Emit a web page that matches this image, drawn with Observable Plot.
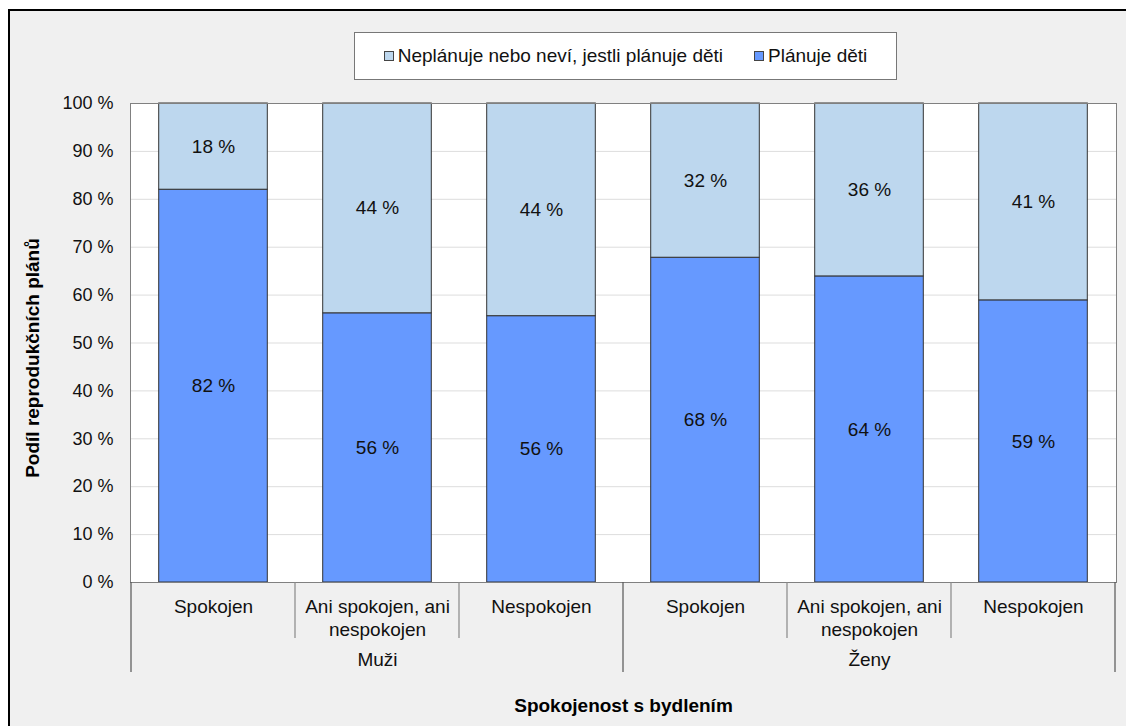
<!DOCTYPE html>
<html>
<head>
<meta charset="utf-8">
<script src="https://cdn.jsdelivr.net/npm/d3@7"></script>
<script src="https://cdn.jsdelivr.net/npm/@observablehq/plot@0.6"></script>
<style>
  html, body { margin: 0; padding: 0; background: white; overflow: hidden; }
  #wrap { position: relative; width: 1126px; height: 726px; overflow: hidden; font-family: "Liberation Sans", Arial, sans-serif; }
  #frame { position: absolute; left: 8px; top: 9px; width: 1140px; height: 740px; border: 2px solid #000; background: #f0f0f0; box-sizing: border-box; }
  #chart { position: absolute; left: 0; top: 0; }
  #legend { position: absolute; left: 354px; top: 32px; width: 543px; height: 48px; box-sizing: border-box; border: 1px solid #777; background: #fff; display: flex; align-items: center; justify-content: center; gap: 31px; font-size: 19px; color: #111; }
  .item { display: flex; align-items: center; gap: 4px; }
  .sw { width: 8px; height: 8px; border: 1px solid #444; }
</style>
</head>
<body>
<div id="wrap">
  <div id="frame"></div>
  <div id="chart"></div>
  <div id="legend"></div>
</div>
<script>
const groups = ["Muži", "Ženy"];
const categories = ["Spokojen", "Ani spokojen, ani\nnespokojen", "Nespokojen"];
const series = ["Plánuje děti", "Neplánuje nebo neví, jestli plánuje děti"];
const legendOrder = ["Neplánuje nebo neví, jestli plánuje děti", "Plánuje děti"];
const colors = ["#6699ff", "#bdd7ee"];
const planuje = [82.0, 56.2, 55.6, 67.8, 63.9, 58.9];
const neplanuje = [18.0, 43.8, 44.4, 32.2, 36.1, 41.1];
const yTicks = [0, 10, 20, 30, 40, 50, 60, 70, 80, 90, 100];
const xTitle = "Spokojenost s bydlením";
const yTitle = "Podíl reprodukčních plánů";

const keys = [];
const catOf = {};
groups.forEach(g => categories.forEach(c => { const k = g + "|" + c; keys.push(k); catOf[k] = c; }));

const rows = [];
keys.forEach((k, i) => {
  rows.push({key: k, series: series[0], value: planuje[i]});
  rows.push({key: k, series: series[1], value: neplanuje[i]});
});
const groupRows = groups.map((g, gi) => ({group: g, key: keys[gi * categories.length + 1]}));

const font = "Liberation Sans, Arial, sans-serif";

const chart = Plot.plot({
  width: 1126,
  height: 726,
  marginLeft: 130,
  marginRight: 10,
  marginTop: 103,
  marginBottom: 144,
  style: {background: "transparent", fontFamily: font, fontSize: "19px", color: "#111"},
  x: {domain: keys, padding: 0, axis: null},
  y: {domain: [0, 100], axis: null},
  color: {domain: series, range: colors},
  marks: [
    Plot.frame({fill: "white", stroke: "none"}),
    Plot.gridY(yTicks, {stroke: "#dddddd", strokeOpacity: 1}),
    Plot.barY(rows, Plot.stackY({
      x: "key", y: "value", z: "series", fill: "series", order: series,
      stroke: "#333", strokeWidth: 1, insetLeft: 27.7, insetRight: 27.7
    })),
    Plot.text(rows, Plot.stackY({
      x: "key", y: "value", z: "series", order: series,
      text: d => Math.round(d.value) + " %", fill: "#111", fontSize: 19
    })),
    Plot.frame({stroke: "#808080", strokeWidth: 1}),
    Plot.axisY(yTicks, {tickSize: 0, tickPadding: 17, tickFormat: d => d + " %", label: null, fontSize: 18}),
    Plot.text(keys, {
      x: d => d, text: d => catOf[d], frameAnchor: "bottom", lineAnchor: "top",
      dy: 14, lineHeight: 1.21, fill: "#111", fontSize: 19
    }),
    Plot.text(groupRows, {
      x: "key", text: "group", frameAnchor: "bottom", lineAnchor: "top",
      dy: 70, fill: "#111", fontSize: 19
    }),
    Plot.text([xTitle], {text: d => d, frameAnchor: "bottom", lineAnchor: "top", dy: 116, fontWeight: "bold", fill: "#000", fontSize: 19}),
    Plot.text([yTitle], {text: d => d, frameAnchor: "left", textAnchor: "middle", rotate: -90, dx: -98, dy: 15, fontWeight: "bold", fill: "#000", fontSize: 19})
  ]
});
document.getElementById("chart").appendChild(chart);

// category separators below the axis, placed via the x scale
const xs = chart.scale("x");
const ys = chart.scale("y");
const y0 = ys.apply(0);
const svg = d3.select(chart);
const sep = svg.append("g").attr("stroke-width", 1.2);
const edges = keys.map(k => xs.apply(k)).concat([xs.apply(keys[keys.length - 1]) + xs.bandwidth]);
edges.forEach((xp, i) => {
  const long = i % categories.length === 0;
  sep.append("line")
    .attr("x1", xp).attr("x2", xp)
    .attr("y1", y0).attr("y2", y0 + (long ? 90 : 56))
    .attr("stroke", long ? "#555" : "#888");
});

// legend
const leg = d3.select("#legend");
legendOrder.forEach(s => {
  const it = leg.append("div").attr("class", "item");
  it.append("div").attr("class", "sw").style("background", colors[series.indexOf(s)]);
  it.append("span").text(s);
});
</script>
</body>
</html>
